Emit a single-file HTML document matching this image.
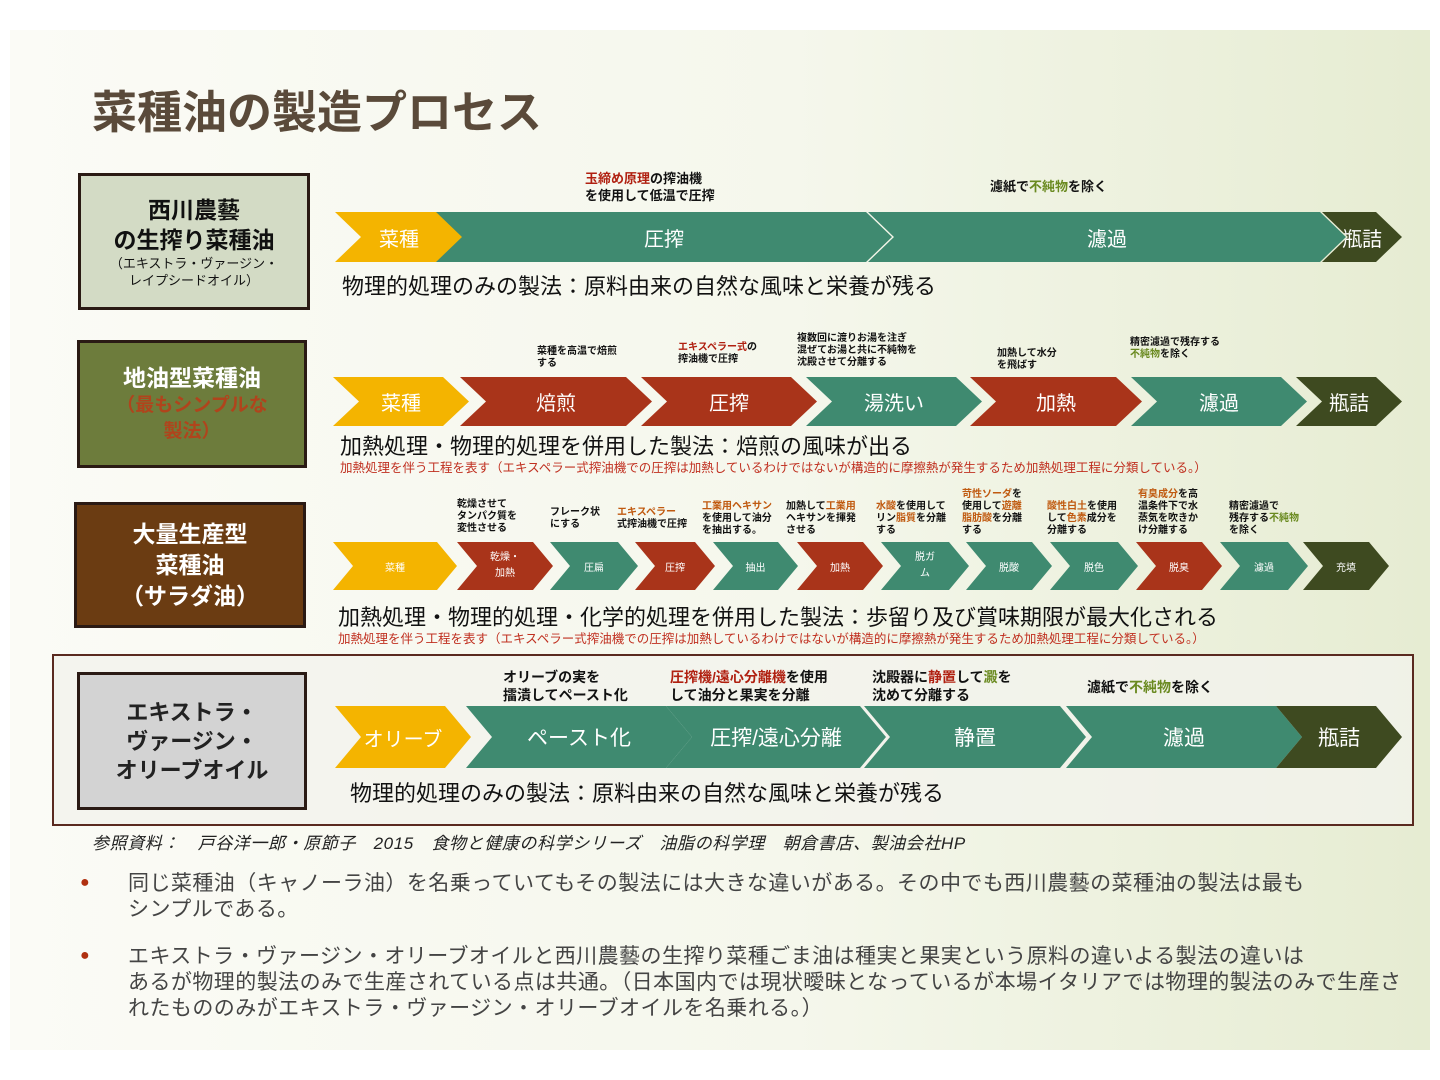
<!DOCTYPE html>
<html><head><meta charset="utf-8"><style>
*{margin:0;padding:0;box-sizing:border-box}
body{width:1440px;height:1080px;position:relative;overflow:hidden;background:#fff;font-family:"Liberation Sans","Noto Sans CJK JP",sans-serif}
.slide{position:absolute;left:10px;top:30px;width:1420px;height:1020px;background:linear-gradient(90deg,#fbfbf6 0%,#f5f7ec 55%,#e6ecd2 100%)}
.a{position:absolute}
.ch{position:absolute;color:#fff;display:flex;align-items:center;justify-content:center;text-align:center;clip-path:polygon(0 0,calc(100% - 26px) 0,100% 50%,calc(100% - 26px) 100%,0 100%,26px 50%)}
.s{clip-path:polygon(0 0,calc(100% - 20px) 0,100% 50%,calc(100% - 20px) 100%,0 100%,20px 50%)}
.y{background:#f4b400}.g{background:#3f8a70}.r{background:#a9341a}.d{background:#3e4a20}
.box{position:absolute;border:3px solid #2a1a14;display:flex;flex-direction:column;align-items:center;justify-content:center;text-align:center;font-weight:bold}
.lbl{position:absolute;font-size:11px;font-weight:bold;line-height:13px;color:#111}
.o{color:#c05a10}.gr{color:#6a8a20}.rd{color:#b02010}
.desc{position:absolute;font-size:22px;color:#111;white-space:nowrap}
.note{position:absolute;font-size:12.5px;color:#c03020;white-space:nowrap}
.bul{position:absolute;font-size:21px;line-height:26px;color:#444;letter-spacing:0.45px;white-space:nowrap}
</style></head><body>
<div class="slide"></div>
<div class="a" style="left:92px;top:76px;font-size:45px;font-weight:bold;color:#5a4a3a">菜種油の製造プロセス</div>

<!-- row1 -->
<div class="box" style="left:78px;top:173px;width:232px;height:137px;background:#d3dbc5;color:#111"><div style="font-size:23px;line-height:30px">西川農藝<br>の生搾り菜種油</div><div style="font-size:13px;font-weight:normal;line-height:17px">（エキストラ・ヴァージン・<br>レイプシードオイル）</div></div>
<div class="lbl" style="left:585px;top:170px;font-size:13px;line-height:17px"><span class="rd">玉締め原理</span>の搾油機<br>を使用して低温で圧搾</div>
<div class="lbl" style="left:990px;top:180px;font-size:13px">濾紙で<span class="gr">不純物</span>を除く</div>
<div class="ch y" style="left:335px;top:212px;width:128px;height:50px;font-size:20px">菜種</div>
<div class="ch g" style="left:436px;top:212px;width:456px;height:50px;font-size:20px">圧搾</div>
<div class="ch g" style="left:868px;top:212px;width:478px;height:50px;font-size:20px">濾過</div>
<div class="ch d" style="left:1322px;top:212px;width:80px;height:50px;font-size:20px">瓶詰</div>
<div class="desc" style="left:342px;top:269px">物理的処理のみの製法：原料由来の自然な風味と栄養が残る</div>

<!-- row2 -->
<div class="box" style="left:77px;top:340px;width:230px;height:128px;background:#6d7c3c;color:#fff"><div style="font-size:23px;line-height:30px">地油型菜種油</div><div style="font-size:19px;color:#b0441c;line-height:26px">（最もシンプルな<br>製法）</div></div>
<div class="lbl" style="left:537px;top:346px;font-size:10px;line-height:12px">菜種を高温で焙煎<br>する</div>
<div class="lbl" style="left:678px;top:342px;font-size:10px;line-height:12px"><span class="rd">エキスペラー式</span>の<br>搾油機で圧搾</div>
<div class="lbl" style="left:797px;top:333px;font-size:10px;line-height:12px">複数回に渡りお湯を注ぎ<br>混ぜてお湯と共に不純物を<br>沈殿させて分離する</div>
<div class="lbl" style="left:997px;top:348px;font-size:10px;line-height:12px">加熱して水分<br>を飛ばす</div>
<div class="lbl" style="left:1130px;top:337px;font-size:10px;line-height:12px">精密濾過で残存する<br><span class="gr">不純物</span>を除く</div>
<div class="ch y" style="left:333px;top:377px;width:136px;height:49px;font-size:20px">菜種</div>
<div class="ch r" style="left:460px;top:377px;width:192px;height:49px;font-size:20px">焙煎</div>
<div class="ch r" style="left:641px;top:377px;width:176px;height:49px;font-size:20px">圧搾</div>
<div class="ch g" style="left:806px;top:377px;width:176px;height:49px;font-size:20px">湯洗い</div>
<div class="ch r" style="left:970px;top:377px;width:172px;height:49px;font-size:20px">加熱</div>
<div class="ch g" style="left:1131px;top:377px;width:176px;height:49px;font-size:20px">濾過</div>
<div class="ch d" style="left:1296px;top:377px;width:106px;height:49px;font-size:20px">瓶詰</div>
<div class="desc" style="left:340px;top:429px">加熱処理・物理的処理を併用した製法：焙煎の風味が出る</div>
<div class="note" style="left:340px;top:457px">加熱処理を伴う工程を表す（エキスペラー式搾油機での圧搾は加熱しているわけではないが構造的に摩擦熱が発生するため加熱処理工程に分類している。）</div>

<!-- row3 -->
<div class="box" style="left:74px;top:502px;width:232px;height:126px;background:#6b3c12;color:#fff;font-size:23px;line-height:31px">大量生産型<br>菜種油<br>（サラダ油）</div>
<div class="lbl" style="left:457px;top:499px;font-size:10px;line-height:12px">乾燥させて<br>タンパク質を<br>変性させる</div>
<div class="lbl" style="left:550px;top:507px;font-size:10px;line-height:12px">フレーク状<br>にする</div>
<div class="lbl" style="left:617px;top:507px;font-size:10px;line-height:12px"><span class="o">エキスペラー</span><br>式搾油機で圧搾</div>
<div class="lbl" style="left:702px;top:501px;font-size:10px;line-height:12px"><span class="o">工業用ヘキサン</span><br>を使用して油分<br>を抽出する。</div>
<div class="lbl" style="left:786px;top:501px;font-size:10px;line-height:12px">加熱して<span class="o">工業用</span><br>ヘキサンを揮発<br>させる</div>
<div class="lbl" style="left:876px;top:501px;font-size:10px;line-height:12px"><span class="o">水酸</span>を使用して<br>リン<span class="o">脂質</span>を分離<br>する</div>
<div class="lbl" style="left:962px;top:489px;font-size:10px;line-height:12px"><span class="o">苛性ソーダ</span>を<br>使用して<span class="o">遊離</span><br><span class="o">脂肪酸</span>を分離<br>する</div>
<div class="lbl" style="left:1047px;top:501px;font-size:10px;line-height:12px"><span class="o">酸性白土</span>を使用<br>して<span class="o">色素</span>成分を<br>分離する</div>
<div class="lbl" style="left:1138px;top:489px;font-size:10px;line-height:12px"><span class="o">有臭成分</span>を高<br>温条件下で水<br>蒸気を吹きか<br>け分離する</div>
<div class="lbl" style="left:1229px;top:501px;font-size:10px;line-height:12px">精密濾過で<br>残存する<span class="gr">不純物</span><br>を除く</div>
<div class="ch y s" style="left:333px;top:542px;width:124px;height:48px;font-size:10px">菜種</div>
<div class="ch r s" style="left:457px;top:542px;width:96px;height:48px;font-size:10px;line-height:16px">乾燥・<br>加熱</div>
<div class="ch g s" style="left:550px;top:542px;width:88px;height:48px;font-size:10px">圧扁</div>
<div class="ch r s" style="left:635px;top:542px;width:80px;height:48px;font-size:10px">圧搾</div>
<div class="ch g s" style="left:713px;top:542px;width:85px;height:48px;font-size:10px">抽出</div>
<div class="ch r s" style="left:797px;top:542px;width:86px;height:48px;font-size:10px">加熱</div>
<div class="ch g s" style="left:881px;top:542px;width:88px;height:48px;font-size:10px;line-height:16px">脱ガ<br>ム</div>
<div class="ch g s" style="left:966px;top:542px;width:86px;height:48px;font-size:10px">脱酸</div>
<div class="ch g s" style="left:1050px;top:542px;width:88px;height:48px;font-size:10px">脱色</div>
<div class="ch r s" style="left:1136px;top:542px;width:86px;height:48px;font-size:10px">脱臭</div>
<div class="ch g s" style="left:1220px;top:542px;width:88px;height:48px;font-size:10px">濾過</div>
<div class="ch d s" style="left:1303px;top:542px;width:86px;height:48px;font-size:10px">充填</div>
<div class="desc" style="left:338px;top:600px">加熱処理・物理的処理・化学的処理を併用した製法：歩留り及び賞味期限が最大化される</div>
<div class="note" style="left:338px;top:628px">加熱処理を伴う工程を表す（エキスペラー式搾油機での圧搾は加熱しているわけではないが構造的に摩擦熱が発生するため加熱処理工程に分類している。）</div>

<!-- row4 -->
<div class="a" style="left:52px;top:654px;width:1362px;height:172px;border:2px solid #5a2a20;background:rgba(242,242,236,0.8)"></div>
<div class="box" style="left:77px;top:672px;width:230px;height:138px;background:#d3d3d3;color:#222;font-size:22px;line-height:29px">エキストラ・<br>ヴァージン・<br>オリーブオイル</div>
<div class="lbl" style="left:503px;top:668px;font-size:14px;line-height:18px">オリーブの実を<br>擂潰してペースト化</div>
<div class="lbl" style="left:670px;top:668px;font-size:14px;line-height:18px"><span class="rd">圧搾機/遠心分離機</span>を使用<br>して油分と果実を分離</div>
<div class="lbl" style="left:872px;top:668px;font-size:14px;line-height:18px">沈殿器に<span class="rd">静置</span>して<span class="gr">澱</span>を<br>沈めて分離する</div>
<div class="lbl" style="left:1087px;top:678px;font-size:14px;line-height:18px">濾紙で<span class="gr">不純物</span>を除く</div>
<div class="ch y" style="left:335px;top:706px;width:136px;height:62px;font-size:20px">オリーブ</div>
<div class="ch g" style="left:466px;top:706px;width:226px;height:62px;font-size:21px">ペースト化</div>
<div class="ch g" style="left:666px;top:706px;width:220px;height:62px;font-size:21px">圧搾/遠心分離</div>
<div class="ch g" style="left:864px;top:706px;width:222px;height:62px;font-size:21px">静置</div>
<div class="ch g" style="left:1066px;top:706px;width:236px;height:62px;font-size:21px">濾過</div>
<div class="ch d" style="left:1276px;top:706px;width:126px;height:62px;font-size:21px">瓶詰</div>
<div class="desc" style="left:350px;top:776px">物理的処理のみの製法：原料由来の自然な風味と栄養が残る</div>

<div class="a" style="left:92px;top:829px;font-size:17px;font-style:italic;color:#222;letter-spacing:0.6px;white-space:nowrap">参照資料：　戸谷洋一郎・原節子　2015　食物と健康の科学シリーズ　油脂の科学理　朝倉書店、製油会社HP</div>
<div class="a" style="left:80px;top:874px;font-size:16px;color:#b03010">●</div>
<div class="bul" style="left:128px;top:871px">同じ菜種油（キャノーラ油）を名乗っていてもその製法には大きな違いがある。その中でも西川農藝の菜種油の製法は最も<br>シンプルである。</div>
<div class="a" style="left:80px;top:947px;font-size:16px;color:#b03010">●</div>
<div class="bul" style="left:128px;top:944px">エキストラ・ヴァージン・オリーブオイルと西川農藝の生搾り菜種ごま油は種実と果実という原料の違いよる製法の違いは<br>あるが物理的製法のみで生産されている点は共通。（日本国内では現状曖昧となっているが本場イタリアでは物理的製法のみで生産さ<br>れたもののみがエキストラ・ヴァージン・オリーブオイルを名乗れる。）</div>
</body></html>
